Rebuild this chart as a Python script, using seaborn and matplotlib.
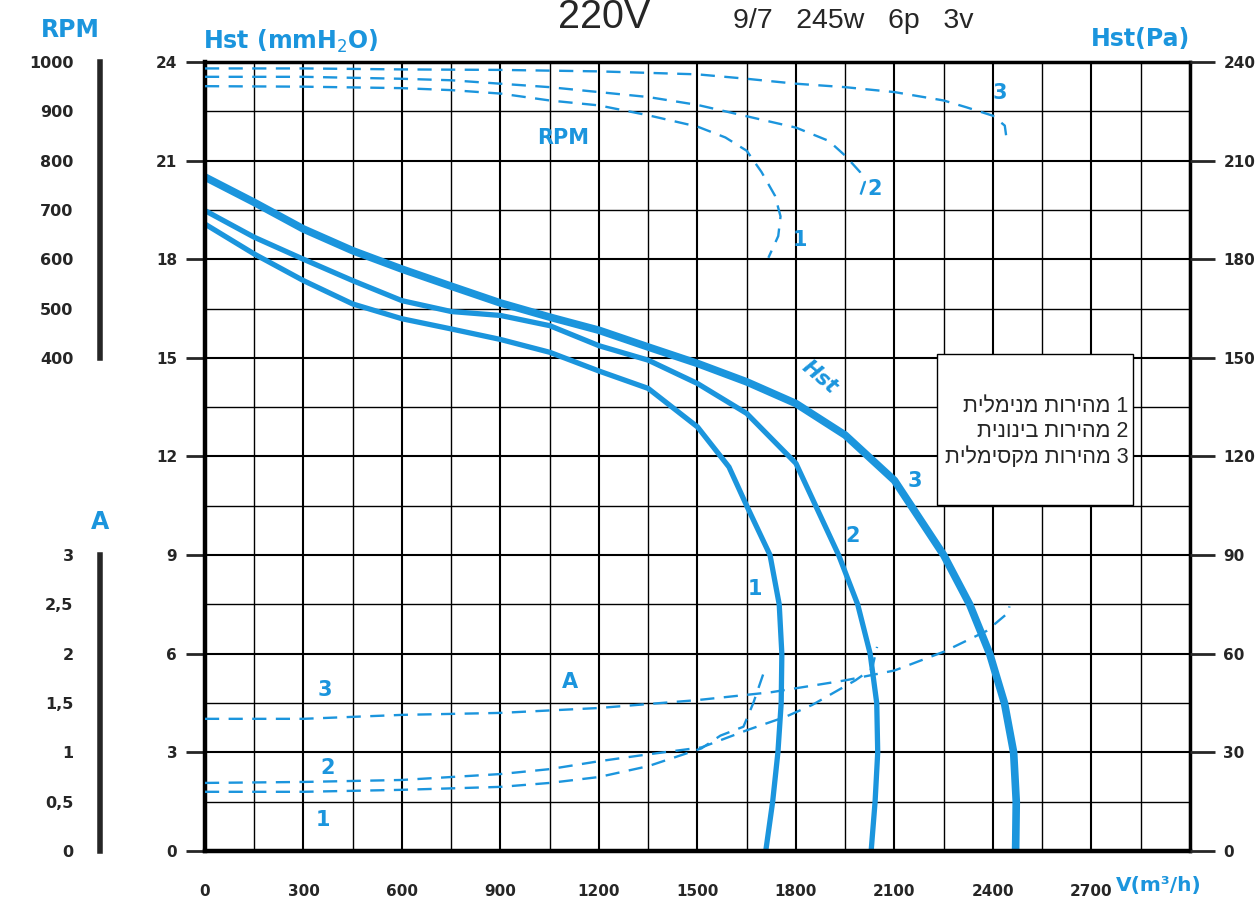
import numpy as np
import pandas as pd
import matplotlib
matplotlib.use("Agg")
import matplotlib.pyplot as plt
import seaborn as sns
from matplotlib.patches import Rectangle

# ---- values ----
# static pressure Hst (mmH2O) against air volume V (m3/h)
hst1_v = [0, 150, 300, 450, 600, 750, 900, 1050, 1200, 1350, 1500, 1596, 1650, 1721, 1749, 1757, 1755, 1745, 1729, 1708]
hst1_h = [19.07, 18.16, 17.35, 16.64, 16.19, 15.88, 15.56, 15.17, 14.6, 14.07, 12.9, 11.68, 10.5, 9.0, 7.5, 6.0, 4.5, 3.0, 1.5, 0.0]
hst2_v = [0, 150, 300, 450, 600, 750, 900, 1050, 1200, 1350, 1500, 1650, 1800, 1930, 1988, 2026, 2046, 2049, 2041, 2029]
hst2_h = [19.48, 18.67, 18.0, 17.35, 16.74, 16.41, 16.29, 15.98, 15.37, 14.93, 14.22, 13.31, 11.79, 9.0, 7.5, 6.0, 4.5, 3.0, 1.5, 0.0]
hst3_v = [0, 150, 300, 450, 600, 750, 900, 1050, 1200, 1350, 1500, 1650, 1800, 1950, 2100, 2250, 2329, 2390, 2435, 2463, 2471, 2469]
hst3_h = [20.5, 19.73, 18.92, 18.26, 17.7, 17.18, 16.67, 16.24, 15.84, 15.33, 14.83, 14.27, 13.61, 12.65, 11.27, 9.0, 7.5, 6.0, 4.5, 3.0, 1.5, 0.0]

# fan speed (RPM)
rpm1_v = [0, 300, 600, 750, 900, 1050, 1200, 1350, 1500, 1585, 1650, 1695, 1736, 1753, 1746, 1716]
rpm1 = [951, 950, 947, 943, 936, 922, 912, 892, 869, 847, 820, 777, 729, 687, 647, 603]
rpm2_v = [0, 300, 600, 750, 900, 1050, 1200, 1350, 1500, 1650, 1800, 1900, 1950, 1995, 2010, 1995]
rpm2 = [970, 970, 966, 963, 956, 949, 939, 929, 913, 890, 867, 840, 810, 777, 757, 727]
rpm3_v = [0, 300, 600, 900, 1200, 1500, 1650, 1800, 1950, 2100, 2250, 2320, 2400, 2436, 2443]
rpm3 = [987, 987, 985, 984, 981, 975, 966, 956, 949, 939, 922, 908, 891, 871, 837]

# current (A)
amp1_v = [0, 300, 600, 900, 1050, 1200, 1350, 1512, 1570, 1640, 1670, 1701]
amp1 = [0.60, 0.60, 0.62, 0.65, 0.69, 0.75, 0.86, 1.04, 1.17, 1.26, 1.50, 1.80]
amp2_v = [0, 300, 600, 900, 1050, 1200, 1350, 1512, 1655, 1768, 1849, 1981, 2032, 2047]
amp2 = [0.69, 0.70, 0.72, 0.78, 0.83, 0.91, 0.98, 1.05, 1.23, 1.36, 1.48, 1.73, 1.85, 2.07]
amp3_v = [0, 300, 600, 900, 1200, 1500, 1725, 1950, 2100, 2250, 2380, 2448, 2450]
amp3 = [1.34, 1.34, 1.38, 1.40, 1.45, 1.53, 1.61, 1.73, 1.83, 2.02, 2.23, 2.42, 2.48]

x_ticks = [0, 300, 600, 900, 1200, 1500, 1800, 2100, 2400, 2700, 3000]
x_labels = ["0", "300", "600", "900", "1200", "1500", "1800", "2100", "2400", "2700", ""]
h_ticks = [0, 3, 6, 9, 12, 15, 18, 21, 24]
pa_ticks = [0, 30, 60, 90, 120, 150, 180, 210, 240]
rpm_ticks = [400, 500, 600, 700, 800, 900, 1000]
amp_ticks = [0, 0.5, 1, 1.5, 2, 2.5, 3]
amp_labels = ["0", "0,5", "1", "1,5", "2", "2,5", "3"]
legend_lines = ["1 מהירות מנימלית", "2 מהירות בינונית", "3 מהירות מקסימלית"]

BLUE = "#1b95dd"
ARIAL = ["Liberation Sans", "DejaVu Sans"]

sns.set_style("white")
plt.rcParams["font.family"] = ["DejaVu Sans"]

fig = plt.figure(figsize=(12.6, 9.08), dpi=100)
L, B, W, H = 0.1627, 0.0628, 0.7817, 0.8689
ax = fig.add_axes([L, B, W, H])
ax.set_xlim(0, 3000)
ax.set_ylim(0, 24)

# grid and ticks
ax.set_xticks(x_ticks)
ax.set_xticks(np.arange(150, 3000, 300), minor=True)
ax.set_yticks(h_ticks)
ax.set_yticks(np.arange(1.5, 24, 3), minor=True)
ax.tick_params(which="major", length=14, width=2, pad=6)
ax.tick_params(axis="x", which="major", pad=10)
ax.tick_params(which="minor", length=0)
ax.grid(which="major", color="black", lw=1.5)
ax.grid(which="minor", color="black", lw=1.0)
ax.set_axisbelow(True)
ax.set_xticklabels(x_labels, fontsize=11, fontweight="bold")
ax.set_yticklabels([str(t) for t in h_ticks], fontsize=11, fontweight="bold")
for side, w in [("left", 3.2), ("bottom", 3.2), ("top", 2.5), ("right", 2.5)]:
    ax.spines[side].set_linewidth(w)
    ax.spines[side].set_color("black")

# Hst curves
for v, h, lw in [(hst1_v, hst1_h, 3.8), (hst2_v, hst2_h, 3.8), (hst3_v, hst3_h, 5.5)]:
    sns.lineplot(x=v, y=h, ax=ax, sort=False, estimator=None, color=BLUE, lw=lw,
                 solid_capstyle="butt", solid_joinstyle="round")

# RPM curves on a twin scale that maps 400..1000 rpm onto 15..24 mmH2O
ax_rpm = ax.twinx()
ax_rpm.set_ylim(-600, 1000)
for v, r in [(rpm1_v, rpm1), (rpm2_v, rpm2), (rpm3_v, rpm3)]:
    sns.lineplot(x=v, y=r, ax=ax_rpm, sort=False, estimator=None, color=BLUE, lw=1.7,
                 linestyle=(0, (6, 4)))

# current curves on a twin scale that maps 0..3 A onto 0..9 mmH2O
ax_a = ax.twinx()
ax_a.set_ylim(0, 8)
for v, a in [(amp1_v, amp1), (amp2_v, amp2), (amp3_v, amp3)]:
    sns.lineplot(x=v, y=a, ax=ax_a, sort=False, estimator=None, color=BLUE, lw=1.7,
                 linestyle=(0, (6, 4)))

for tw in (ax_rpm, ax_a):
    tw.set_yticks([])
    tw.set_ylabel("")
    for s in tw.spines.values():
        s.set_visible(False)

# Pa scale on the right
ax_pa = ax.twinx()
ax_pa.set_ylim(0, 240)
ax_pa.set_yticks(pa_ticks)
ax_pa.tick_params(length=18, width=2, pad=6)
ax_pa.set_yticklabels([str(t) for t in pa_ticks], fontsize=11, fontweight="bold")
for s in ax_pa.spines.values():
    s.set_visible(False)

# left auxiliary scales
unit = H / 24
ax_r = fig.add_axes([100 / 1260, B + 15 * unit, 0.01, 9 * unit])
ax_r.set_ylim(400, 1000)
ax_r.set_yticks(rpm_ticks)
ax_c = fig.add_axes([100 / 1260, B, 0.01, 9 * unit])
ax_c.set_ylim(0, 3)
ax_c.set_yticks(amp_ticks)
for aux in (ax_r, ax_c):
    aux.set_xticks([])
    aux.patch.set_visible(False)
    for s in ["top", "right", "bottom"]:
        aux.spines[s].set_visible(False)
    aux.spines["left"].set_linewidth(4)
    aux.tick_params(axis="y", length=14, width=2, pad=5)
ax_r.set_yticklabels([str(t) for t in rpm_ticks], fontsize=11.5, fontweight="bold")
ax_c.set_yticklabels(amp_labels, fontsize=11.5, fontweight="bold")

# axis titles
lab = dict(color=BLUE, fontweight="bold", fontsize=17)
fig.text(70 / 1260, 1 - 30 / 908, "RPM", ha="center", va="center", **lab)
fig.text(100 / 1260, 1 - 522 / 908, "A", ha="center", va="center", **lab)
fig.text(203 / 1260, 1 - 41 / 908, "Hst (mmH$_2$O)", ha="left", va="center", **lab)
fig.text(1190 / 1260, 1 - 39 / 908, "Hst(Pa)", ha="right", va="center", **lab)
fig.text(1116 / 1260, 1 - 886 / 908, "V(m³/h)", ha="left", va="center", color=BLUE,
         fontweight="bold", fontsize=14.5)

# curve labels
num = dict(color=BLUE, fontweight="bold", fontsize=15, ha="center", va="center")
ax.text(1675, 7.96, "1", **num)
ax.text(1974, 9.57, "2", **num)
ax.text(2163, 11.25, "3", **num)
ax.text(1873, 14.4, "Hst", rotation=-40, style="italic", **num)
ax.text(1812, 18.6, "1", **num)
ax.text(2041, 20.15, "2", **num)
ax.text(2421, 23.05, "3", **num)
ax.text(1090, 21.7, "RPM", **num)
ax.text(365, 4.9, "3", **num)
ax.text(375, 2.53, "2", **num)
ax.text(360, 0.95, "1", **num)
ax.text(1112, 5.15, "A", **num)

# speed legend box (Hebrew drawn in visual order)
ax.add_patch(Rectangle((2230, 10.52), 597, 4.6, facecolor="white", edgecolor="black",
                       lw=1, zorder=5))
for i, line in enumerate(legend_lines):
    ax.text(2812, 13.52 - 0.77 * i, line[::-1], ha="right", va="center", fontsize=15.5,
            family=ARIAL, zorder=6)

# header
fig.text(604 / 1260, 1 - 28 / 908, "220V", ha="center", va="baseline", fontsize=28.5,
         family=ARIAL)
fig.text(733 / 1260, 1 - 28 / 908, "9/7   245w   6p   3v", ha="left", va="baseline",
         fontsize=20.5, family=ARIAL)

fig.savefig("out.png", dpi=100)
